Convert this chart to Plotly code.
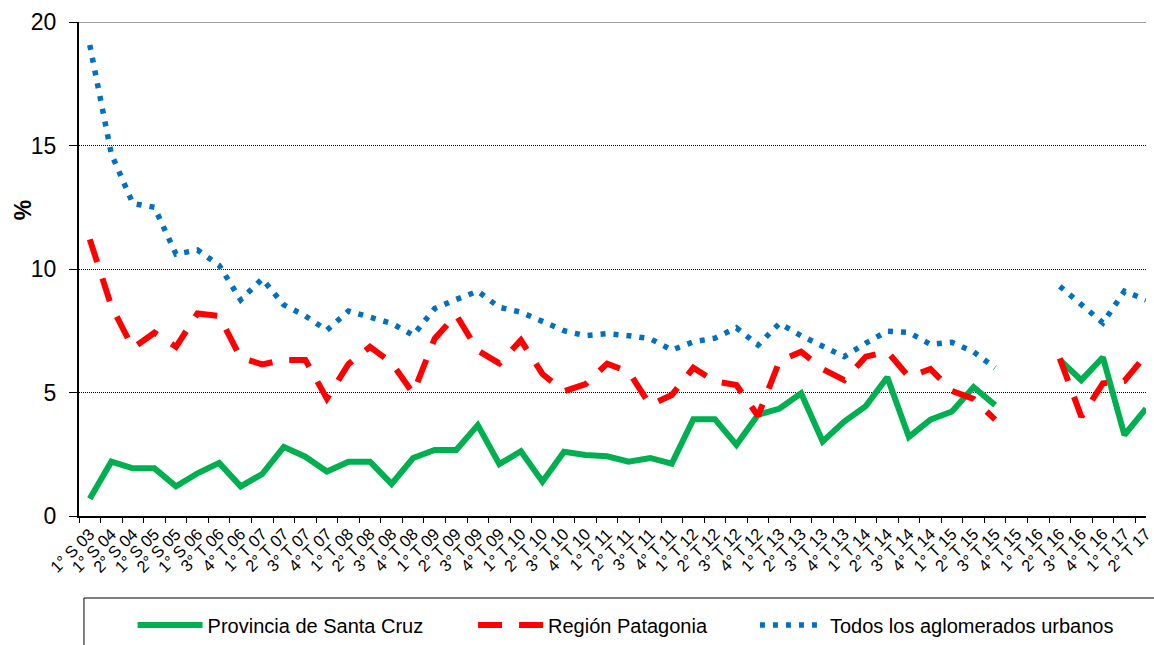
import plotly.graph_objects as go

categories = [
    "1° S 03", "1° S 04", "2° S 04", "1° S 05", "2° S 05", "1° S 06", "3° T 06", "4° T 06",
    "1° T 07", "2° T 07", "3° T 07", "4° T 07",
    "1° T 08", "2° T 08", "3° T 08", "4° T 08",
    "1° T 09", "2° T 09", "3° T 09", "4° T 09",
    "1° T 10", "2° T 10", "3° T 10", "4° T 10",
    "1° T 11", "2° T 11", "3° T 11", "4° T 11",
    "1° T 12", "2° T 12", "3° T 12", "4° T 12",
    "1° T 13", "2° T 13", "3° T 13", "4° T 13",
    "1° T 14", "2° T 14", "3° T 14", "4° T 14",
    "1° T 15", "2° T 15", "3° T 15", "4° T 15",
    "1° T 16", "2° T 16", "3° T 16", "4° T 16",
    "1° T 17", "2° T 17",
]

santa_cruz = [
    0.7, 2.2, 1.93, 1.93, 1.2, 1.73, 2.15, 1.2,
    1.7, 2.8, 2.4, 1.8,
    2.2, 2.2, 1.3, 2.35,
    2.67, 2.67, 3.68, 2.1,
    2.62, 1.39, 2.6, 2.47,
    2.42, 2.2, 2.35, 2.12,
    3.92, 3.92, 2.88, 4.1,
    4.35, 4.97, 3.02, 3.82,
    4.45, 5.62, 3.2, 3.9,
    4.23, 5.22, 4.49, None,
    None, 6.32, 5.5, 6.43,
    3.28, 4.35,
]

patagonia = [
    11.2, 8.5, 6.8, 7.42, 6.85, 8.2, 8.1, 6.4,
    6.14, 6.32, 6.32, 4.75,
    6.15, 6.85, 6.2, 4.97,
    7.18, 8.14, 6.7, 6.18,
    7.12, 5.75, 5.05, 5.34,
    6.17, 5.84, 4.49, 4.9,
    6.0, 5.45, 5.3, 4.05,
    6.28, 6.65, 5.95, 5.5,
    6.45, 6.65, 5.63, 5.95,
    5.06, 4.74, 3.9, None,
    None, 6.38, 4.02, 5.37,
    5.47, 6.52,
]

aglomerados = [
    19.07, 14.66, 12.65, 12.5, 10.6, 10.77, 10.15, 8.75,
    9.6, 8.55, 8.1, 7.52,
    8.3, 8.05, 7.8, 7.32,
    8.4, 8.77, 9.1, 8.45,
    8.25, 7.88, 7.5, 7.3,
    7.38, 7.3, 7.18, 6.72,
    7.05, 7.2, 7.62, 6.92,
    7.8, 7.3, 6.85, 6.45,
    7.0, 7.48, 7.43, 6.95,
    7.03, 6.65, 6.0, None,
    None, 9.3, 8.57, 7.82,
    9.1, 8.75,
]

series_names = ["Provincia de Santa Cruz", "Región Patagonia", "Todos los aglomerados urbanos"]
y_ticks = [0, 5, 10, 15, 20]

FONT = "Arial, Liberation Sans, sans-serif"

fig = go.Figure()
fig.add_trace(go.Scatter(
    x=categories, y=santa_cruz, name=series_names[0], mode="lines",
    line=dict(color="#00B050", width=6), connectgaps=False, legend="legend",
))
fig.add_trace(go.Scatter(
    x=categories, y=patagonia, name=series_names[1], mode="lines",
    line=dict(color="#FF0000", width=6, dash="24px,17px"), connectgaps=False, legend="legend2",
))
fig.add_trace(go.Scatter(
    x=categories, y=aglomerados, name=series_names[2], mode="lines",
    line=dict(color="#0070C0", width=5.5, dash="5px,8px"), connectgaps=False, legend="legend3",
))

leg_common = dict(orientation="h", yanchor="middle", xanchor="left", y=-0.2206,
                  font=dict(family=FONT, size=20, color="black"),
                  bgcolor="rgba(0,0,0,0)", itemwidth=65)

fig.update_layout(
    width=1154, height=645,
    margin=dict(l=79, r=0, t=22, b=129),
    paper_bgcolor="white", plot_bgcolor="white",
    font=dict(family=FONT, color="black"),
    legend=dict(x=0.0502, **leg_common),
    legend2=dict(x=0.3693, **leg_common),
    legend3=dict(x=0.6335, **leg_common),
    xaxis=dict(
        type="category", categoryorder="array", categoryarray=categories,
        range=[-0.5, 49], tickmode="linear", tick0=0, dtick=1,
        tickson="boundaries", ticks="outside", ticklen=5, tickwidth=1, tickcolor="black",
        showline=True, linecolor="black", linewidth=2, showgrid=False,
        tickangle=-45, tickfont=dict(family=FONT, size=16.5, color="black"),
    ),
    yaxis=dict(
        range=[0, 20], tickmode="array", tickvals=y_ticks,
        ticks="outside", ticklen=8, tickwidth=1, tickcolor="black",
        showline=True, linecolor="black", linewidth=2,
        showgrid=True, gridcolor="black", gridwidth=1, griddash="1px,1px",
        zeroline=False, ticklabelstandoff=8,
        tickfont=dict(family=FONT, size=23, color="black"),
    ),
    annotations=[dict(
        text="<b>%</b>", xref="paper", yref="paper", x=-0.053, y=0.62,
        showarrow=False, textangle=-90, font=dict(family=FONT, size=23, color="black"),
        xanchor="center", yanchor="middle",
    )],
    shapes=[
        dict(type="line", xref="paper", yref="y", x0=0, x1=1, y0=20, y1=20,
             line=dict(color="#A0A0A0", width=2)),
        dict(type="rect", xref="paper", yref="paper", x0=0.00465, x1=1.05, y0=-0.166, y1=-0.35,
             line=dict(color="black", width=1)),
    ],
    showlegend=True,
)

fig.write_html("out.html", config={"displayModeBar": False},
               post_script="document.body.style.margin='0';")
